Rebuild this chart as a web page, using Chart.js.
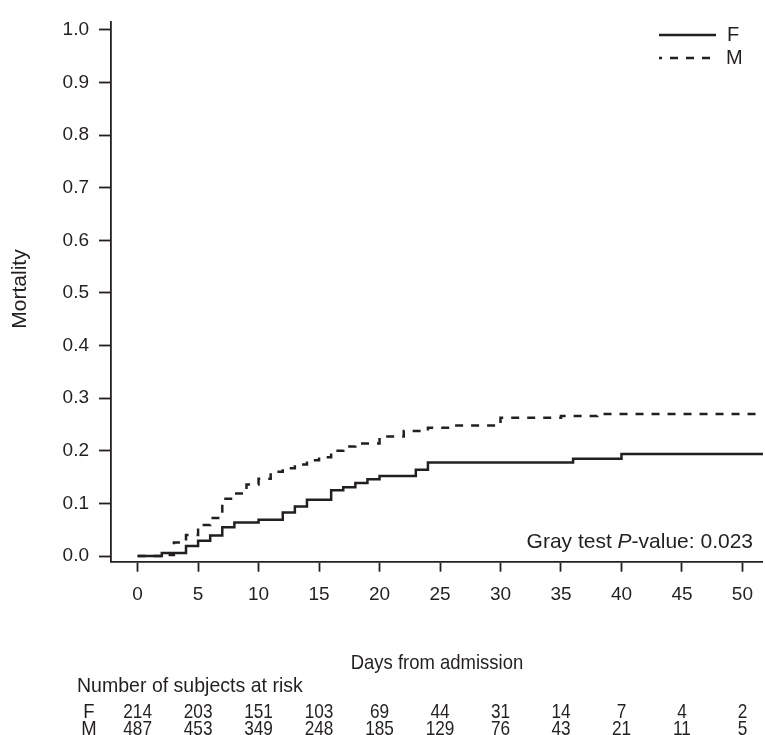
<!DOCTYPE html>
<html><head><meta charset="utf-8">
<script src="https://cdn.jsdelivr.net/npm/chart.js@4"></script>
<style>html,body{margin:0;padding:0;background:#fff}#wrap{width:765px;height:735px;position:relative}</style>
</head><body><div id="wrap"><canvas id="c" width="765" height="735"></canvas></div>
<script>
// ---- data ----
const femaleDays = [0, 2, 4, 5, 6, 7, 8, 10, 12, 13, 14, 16, 17, 18, 19, 20, 23, 24, 36, 40, 51.7];
const femaleMort = [0, 0.006, 0.019, 0.029, 0.039, 0.055, 0.064, 0.069, 0.083, 0.094, 0.107, 0.125, 0.131, 0.139, 0.146, 0.152, 0.164, 0.178, 0.185, 0.194, 0.194];
const maleDays = [0, 2.5, 3, 4, 5, 6, 7, 8, 9, 10, 11, 12, 13, 14, 15, 16, 17, 18, 20, 22, 24, 26, 30, 35, 38, 51.7];
const maleMort = [0, 0.002, 0.026, 0.040, 0.059, 0.0725, 0.109, 0.119, 0.136, 0.147, 0.160, 0.167, 0.174, 0.182, 0.188, 0.200, 0.208, 0.214, 0.227, 0.2375, 0.244, 0.248, 0.263, 0.266, 0.270, 0.270];
const xTicks = [0, 5, 10, 15, 20, 25, 30, 35, 40, 45, 50];
const yTicks = [0, 0.1, 0.2, 0.3, 0.4, 0.5, 0.6, 0.7, 0.8, 0.9, 1.0];
const groups = ['F', 'M'];
const riskF = [214, 203, 151, 103, 69, 44, 31, 14, 7, 4, 2];
const riskM = [487, 453, 349, 248, 185, 129, 76, 43, 21, 11, 5];
const pValueText = '0.023';

const INK = '#231f20';
const FONT = "'Liberation Sans', Arial, sans-serif";

const toPts = (xs, ys) => xs.map((x, i) => ({x: x, y: ys[i]}));

// draw text horizontally condensed by factor sx
function condText(ctx, txt, x, y, sx, align) {
  ctx.save();
  ctx.translate(x, y);
  ctx.scale(sx, 1);
  ctx.textAlign = align;
  ctx.fillText(txt, 0, 0);
  ctx.restore();
}

const extras = {
  id: 'extras',
  afterDraw(chart) {
    const ctx = chart.ctx;
    const xs = chart.scales.x;
    const area = chart.chartArea;
    ctx.save();
    ctx.fillStyle = INK;
    ctx.textBaseline = 'middle';
    // y title
    ctx.save();
    ctx.translate(20, 289);
    ctx.rotate(-Math.PI / 2);
    ctx.font = '21px ' + FONT;
    ctx.textAlign = 'center';
    ctx.fillText('Mortality', 0, 0);
    ctx.restore();
    // x title
    ctx.font = '21px ' + FONT;
    condText(ctx, 'Days from admission', (area.left + area.right) / 2, 663, 0.88, 'center');
    // risk table
    condText(ctx, 'Number of subjects at risk', 77, 686, 0.93, 'left');
    const rows = [riskF, riskM];
    const rowY = [712, 729];
    rows.forEach((row, r) => {
      condText(ctx, groups[r], 89, rowY[r], 0.88, 'center');
      row.forEach((n, i) => {
        condText(ctx, String(n), xs.getPixelForValue(xTicks[i]), rowY[r], 0.82, 'center');
      });
    });
    // Gray test text (right aligned)
    ctx.textAlign = 'left';
    const fs = '21px ';
    ctx.font = fs + FONT;
    const p1 = 'Gray test ', p3 = '-value: ' + pValueText;
    const w1 = ctx.measureText(p1).width, w3 = ctx.measureText(p3).width;
    ctx.font = 'italic ' + fs + FONT;
    const w2 = ctx.measureText('P').width;
    const gx = 753 - (w1 + w2 + w3);
    const gy = 542;
    ctx.font = fs + FONT;
    ctx.fillText(p1, gx, gy);
    ctx.font = 'italic ' + fs + FONT;
    ctx.fillText('P', gx + w1, gy);
    ctx.font = fs + FONT;
    ctx.fillText(p3, gx + w1 + w2, gy);
    // legend
    ctx.strokeStyle = INK;
    ctx.lineWidth = 2.5;
    const ly = [35, 58];
    ctx.beginPath(); ctx.moveTo(659, ly[0]); ctx.lineTo(716, ly[0]); ctx.stroke();
    ctx.setLineDash([8, 8]);
    ctx.lineDashOffset = 5;
    ctx.beginPath(); ctx.moveTo(659, ly[1]); ctx.lineTo(716, ly[1]); ctx.stroke();
    ctx.setLineDash([]);
    ctx.font = '20px ' + FONT;
    ctx.textAlign = 'left';
    ctx.fillText(groups[0], 727, ly[0]);
    ctx.fillText(groups[1], 726, ly[1]);
    ctx.restore();
  }
};

new Chart(document.getElementById('c'), {
  type: 'line',
  data: {
    datasets: [
      {label: 'F', data: toPts(femaleDays, femaleMort), stepped: 'before', borderColor: INK, borderWidth: 2.5, pointRadius: 0, fill: false},
      {label: 'M', data: toPts(maleDays, maleMort), stepped: 'before', borderColor: INK, borderWidth: 2.5, borderDash: [8, 8], pointRadius: 0, fill: false}
    ]
  },
  options: {
    responsive: false,
    animation: false,
    devicePixelRatio: 1,
    layout: {padding: {top: 14, left: 0, right: 0, bottom: 0}},
    plugins: {legend: {display: false}, tooltip: {enabled: false}},
    scales: {
      x: {
        type: 'linear', min: -2.2, max: 51.7,
        afterBuildTicks: s => { s.ticks = xTicks.map(v => ({value: v})); },
        afterFit: s => { s.height = 735 - 561.7; },
        border: {display: true, color: INK, width: 1.8},
        grid: {drawOnChartArea: false, drawTicks: true, tickLength: 10, tickColor: INK, tickWidth: 1.8},
        ticks: {color: INK, font: {family: FONT, size: 19}, padding: 12, maxRotation: 0, callback: v => String(v)}
      },
      y: {
        type: 'linear', min: -0.0107, max: 1.016,
        afterBuildTicks: s => { s.ticks = yTicks.map(v => ({value: v})); },
        afterFit: s => { s.width = 111; },
        border: {display: true, color: INK, width: 1.8},
        grid: {drawOnChartArea: false, drawTicks: true, tickLength: 12, tickColor: INK, tickWidth: 1.8},
        ticks: {color: INK, font: {family: FONT, size: 19}, padding: 10, callback: v => Number(v).toFixed(1)}
      }
    }
  },
  plugins: [extras]
});
</script></body></html>
